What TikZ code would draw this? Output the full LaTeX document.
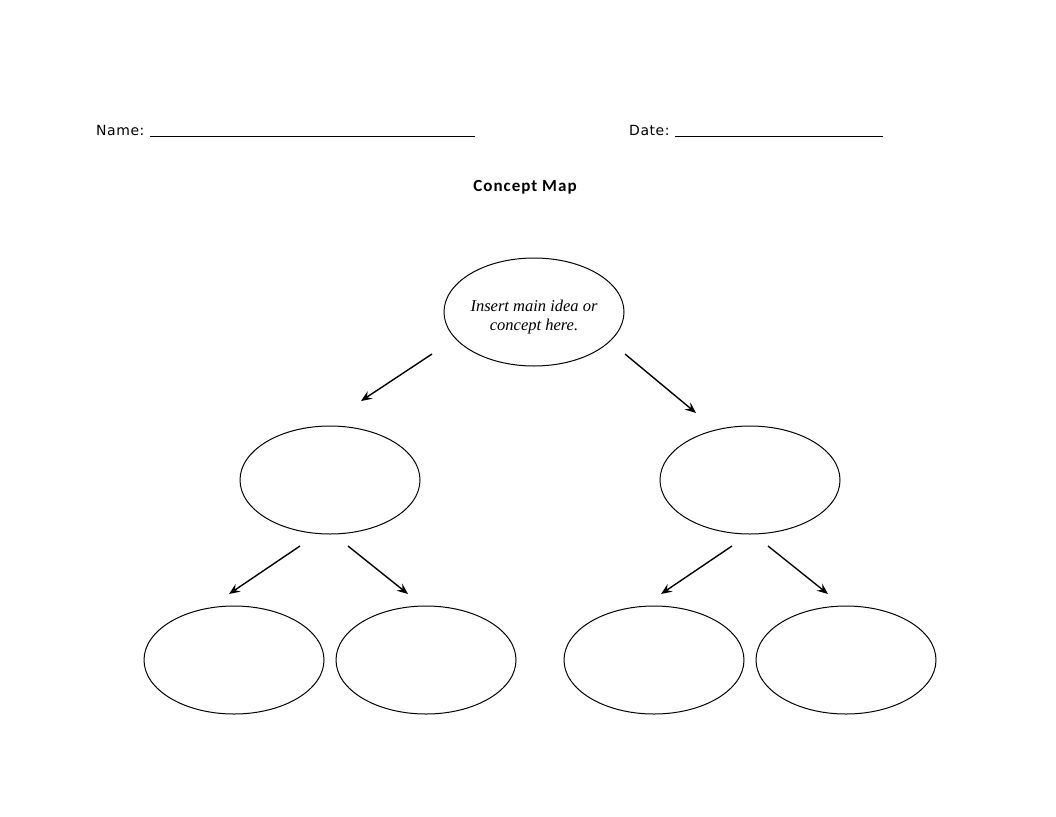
\documentclass[tikz,border=0pt]{standalone}
\usepackage{fontspec}
\setmainfont{DejaVu Sans}
\newfontfamily\titlefont[LetterSpace=6]{Carlito}
\newfontfamily\ideafont{Liberation Serif}
\newfontfamily\formfont[LetterSpace=4]{DejaVu Sans}
\usetikzlibrary{shapes.geometric,arrows.meta}
\begin{document}
\begin{tikzpicture}[x=1pt,y=-1pt,
  bubble/.style={draw,line width=1pt,ellipse,minimum width=180pt,minimum height=108pt,inner sep=0pt},
  link/.style={line width=1.4pt,-{Stealth[length=11pt,width=9pt,inset=4pt]}},
  label/.style={anchor=base west,inner sep=0pt,font=\formfont\fontsize{14}{16}\selectfont},
  rule/.style={line width=0.9pt}]
\useasboundingbox[fill=white] (0,0) rectangle (1056,816);
\node[label] (name) at (96,135) {Name:};
\coordinate (n1) at (150,136); \coordinate (n2) at (475,136);
\draw[rule] (n1) -- (n2);
\node[label] (date) at (629,135) {Date:};
\coordinate (d1) at (675,136); \coordinate (d2) at (883,136);
\draw[rule] (d1) -- (d2);
\node[inner sep=0pt,anchor=base,font=\titlefont\bfseries\fontsize{17}{19}\selectfont] (title) at (525,191) {Concept Map};
\node[bubble] (main) at (534,312) {};
\node[align=center,inner sep=0pt,font=\ideafont\itshape\fontsize{16.5}{19}\selectfont] (idea) at (534,317) {Insert main idea or\\concept here.};
\node[bubble] (l) at (330,480) {};
\node[bubble] (r) at (750,480) {};
\node[bubble] (ll) at (234,660) {};
\node[bubble] (lr) at (426,660) {};
\node[bubble] (rl) at (654,660) {};
\node[bubble] (rr) at (846,660) {};
\coordinate (a1s) at (432,354); \coordinate (a1e) at (361,401);
\coordinate (a2s) at (625,354); \coordinate (a2e) at (696,413);
\coordinate (a3s) at (300,546); \coordinate (a3e) at (229,594);
\coordinate (a4s) at (348,546); \coordinate (a4e) at (408,594);
\coordinate (a5s) at (732,546); \coordinate (a5e) at (661,594);
\coordinate (a6s) at (768,546); \coordinate (a6e) at (828,594);
\foreach \i in {1,...,6} \draw[link] (a\i s) -- (a\i e);
\end{tikzpicture}
\end{document}
